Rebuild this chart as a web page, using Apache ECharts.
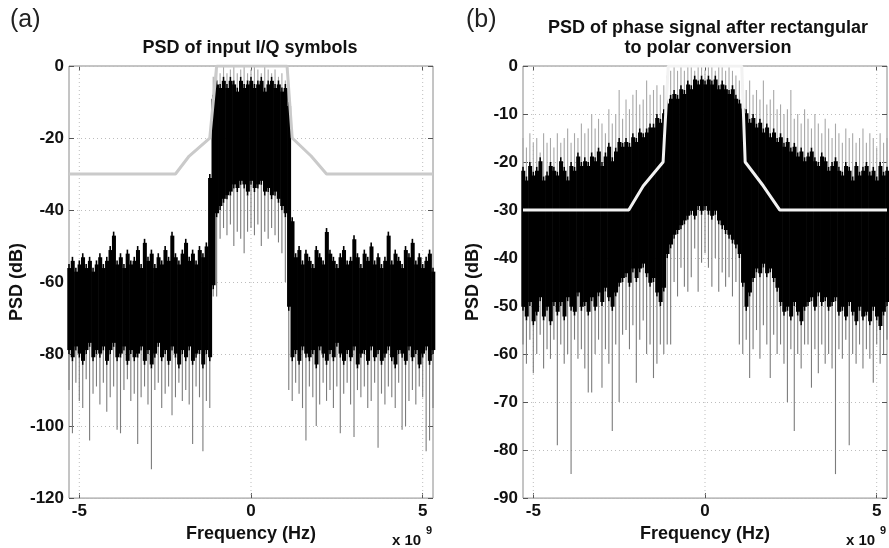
<!DOCTYPE html>
<html><head><meta charset="utf-8">
<script src="https://cdn.jsdelivr.net/npm/echarts@6/dist/echarts.min.js"></script>
<style>html,body{margin:0;padding:0;background:#fff}#c{width:889px;height:548px}</style>
</head><body><div id="c"></div>
<script>
// Frequency sample grid (units of 1e9 Hz)
const FREQ = [-5.3,-5.2,-5.1,-5.0,-4.9,-4.8,-4.7,-4.6,-4.5,-4.4,
 -4.3,-4.2,-4.1,-4.0,-3.9,-3.8,-3.7,-3.6,-3.5,-3.4,
 -3.3,-3.2,-3.1,-3.0,-2.9,-2.8,-2.7,-2.6,-2.5,-2.4,
 -2.3,-2.2,-2.1,-2.0,-1.9,-1.8,-1.7,-1.6,-1.5,-1.4,
 -1.3,-1.2,-1.1,-1.0,-0.9,-0.8,-0.7,-0.6,-0.5,-0.4,
 -0.3,-0.2,-0.1,0,0.1,0.2,0.3,0.4,0.5,0.6,
 0.7,0.8,0.9,1.0,1.1,1.2,1.3,1.4,1.5,1.6,
 1.7,1.8,1.9,2.0,2.1,2.2,2.3,2.4,2.5,2.6,
 2.7,2.8,2.9,3.0,3.1,3.2,3.3,3.4,3.5,3.6,
 3.7,3.8,3.9,4.0,4.1,4.2,4.3,4.4,4.5,4.6,
 4.7,4.8,4.9,5.0,5.1,5.2,5.3];
const COL_WIDTH = 0.1;
const X_TICKS = [-5, 0, 5];

// Panel (a): PSD of input I/Q symbols (dB) - upper edge, lower edge of dense trace, deepest dips, highest peaks
const A_TOP = [-55,-53,-56,-54,-52,-55,-53,-56,-54,-52,
 -55,-53,-50,-46,-54,-52,-55,-51,-54,-53,
 -50,-55,-48,-53,-51,-55,-52,-54,-50,-53,
 -46,-52,-54,-51,-48,-53,-51,-54,-50,-52,
 -49,-30,-8,-4,-5,-3,-5,-3,-4,-6,
 -3,-5,-4,-3,-5,-4,-3,-6,-4,-3,
 -5,-4,-6,-5,-10,-42,-52,-50,-54,-51,
 -53,-55,-50,-52,-54,-45,-51,-53,-55,-52,
 -50,-54,-53,-47,-52,-55,-51,-53,-49,-54,
 -52,-55,-53,-46,-54,-51,-53,-55,-50,-52,
 -48,-54,-52,-55,-53,-51,-56];
const A_BOT = [-80,-82,-79,-81,-83,-80,-78,-82,-80,-81,
 -79,-83,-80,-78,-82,-81,-79,-83,-80,-82,
 -81,-79,-83,-80,-84,-81,-78,-82,-80,-83,
 -79,-81,-84,-80,-82,-79,-83,-81,-80,-84,
 -80,-82,-62,-42,-40,-38,-37,-36,-34,-35,
 -33,-34,-36,-33,-35,-34,-33,-36,-35,-37,
 -36,-38,-40,-42,-68,-82,-80,-83,-79,-81,
 -82,-80,-84,-79,-81,-83,-80,-82,-78,-81,
 -83,-80,-82,-79,-84,-81,-80,-83,-79,-82,
 -80,-83,-81,-79,-82,-84,-80,-81,-83,-79,
 -82,-80,-84,-81,-79,-83,-80];
const A_LOW = [-90,-102,-88,-93,-95,-87,-104,-91,-89,-94,
 -88,-96,-92,-89,-101,-102,-90,-87,-93,-91,
 -105,-92,-89,-94,-112,-90,-88,-95,-91,-89,
 -97,-92,-88,-93,-90,-94,-105,-89,-92,-107,
 -93,-95,-64,-64,-48,-45,-47,-44,-50,-46,
 -48,-52,-46,-45,-47,-44,-50,-46,-48,-45,
 -47,-49,-52,-60,-90,-93,-88,-91,-95,-104,
 -89,-92,-100,-94,-88,-93,-90,-95,-89,-102,
 -91,-88,-94,-103,-90,-92,-89,-95,-93,-88,
 -106,-91,-94,-89,-92,-95,-88,-101,-100,-93,
 -90,-94,-89,-92,-107,-104,-95];
const A_HIGH = [null,null,null,null,null,null,null,null,null,null,
 null,null,null,null,null,null,null,null,null,null,
 null,null,null,null,null,null,null,null,null,null,
 null,null,null,null,null,null,null,null,null,null,
 null,null,-3,-1,-2,0,-2,-1,0,-2,
 -1,0,-2,-1,0,-1,-2,0,-1,-2,
 -1,-3,-2,-4,-7,null,null,null,null,null,
 null,null,null,null,null,null,null,null,null,null,
 null,null,null,null,null,null,null,null,null,null,
 null,null,null,null,null,null,null,null,null,null,
 null,null,null,null,null,null,null];
// spectral mask (a)
const A_MASK_F = [-5.3,-2.2,-1.8,-1.2,-1.0,1.05,1.2,1.75,2.2,5.3];
const A_MASK_DB = [-30,-30,-25,-20,0,0,-20,-25,-30,-30];

// Panel (b): PSD of phase signal after rectangular to polar conversion (dB)
const B_TOP = [-21,-23,-20,-22,-21,-19,-23,-22,-20,-21,
 -22,-19,-21,-23,-20,-21,-18,-20,-19,-20,
 -18,-19,-17,-20,-18,-16,-19,-17,-15,-16,
 -15,-16,-14,-15,-13,-14,-13,-12,-12,-10,
 -11,-9,-7,-6,-5,-6,-4,-5,-3,-4,
 -2,-3,-2,-3,-2,-3,-2,-4,-3,-4,
 -5,-4,-6,-7,-8,-9,-11,-10,-12,-11,
 -13,-12,-14,-13,-15,-14,-16,-15,-17,-16,
 -18,-17,-19,-18,-17,-19,-20,-18,-19,-21,
 -20,-19,-21,-22,-20,-21,-23,-20,-22,-21,
 -20,-22,-21,-23,-20,-22,-21];
const B_BOT = [-51,-53,-50,-54,-52,-49,-53,-51,-54,-50,
 -52,-50,-53,-49,-51,-52,-48,-51,-50,-52,
 -49,-51,-48,-50,-47,-49,-51,-48,-46,-45,
 -44,-46,-43,-45,-43,-42,-44,-46,-45,-48,
 -50,-47,-40,-38,-36,-35,-34,-33,-32,-31,
 -32,-30,-31,-30,-31,-32,-31,-33,-34,-35,
 -36,-37,-38,-40,-46,-51,-48,-45,-43,-44,
 -42,-44,-43,-45,-47,-50,-52,-51,-53,-50,
 -52,-54,-51,-50,-49,-51,-48,-50,-49,-51,
 -50,-49,-52,-51,-53,-50,-52,-54,-51,-53,
 -52,-54,-51,-53,-55,-52,-50];
const B_LOW = [-58,-62,-57,-64,-60,-56,-63,-59,-61,-57,
 -79,-58,-62,-60,-85,-57,-61,-59,-63,-68,
 -68,-60,-57,-67,-59,-62,-76,-58,-70,-56,
 -55,-59,-54,-66,-57,-53,-60,-58,-65,-62,
 -58,-60,-58,-58,-45,-48,-42,-46,-47,-44,
 -38,-47,-41,-39,-42,-46,-40,-47,-43,-46,
 -44,-48,-45,-58,-60,-57,-65,-59,-55,-61,
 -54,-58,-65,-56,-60,-58,-62,-70,-59,-76,
 -60,-63,-58,-58,-67,-59,-64,-58,-62,-60,
 -63,-85,-59,-61,-57,-79,-60,-62,-58,-63,
 -59,-61,-66,-58,-62,-60,-57];
const B_HIGH = [-15,-17,-14,-16,-15,-18,-14,-16,-15,-17,
 -14,-16,-15,-13,-16,-14,-15,-12,-14,-13,
 -10,-13,-11,-12,-14,-9,-12,-10,-5,-11,
 -7,-9,-6,-5,-8,-7,-3,-6,-5,-4,
 -6,-4,-2,-1,0,-1,0,-1,0,0,
 -1,0,0,-1,0,0,-1,0,0,-1,
 0,-1,-2,-3,-4,-5,-3,-6,-5,-7,
 -3,-8,-7,-5,-9,-8,-10,-9,-5,-11,
 -10,-12,-9,-11,-13,-10,-12,-14,-11,-13,
 -15,-12,-14,-16,-13,-15,-14,-16,-15,-13,
 -16,-14,-15,-17,-14,-16,-15];
const B_MASK_F = [-5.3,-2.22,-1.8,-1.22,-1.07,1.07,1.17,1.7,2.18,5.3];
const B_MASK_DB = [-30,-30,-25,-20,0,0,-20,-25,-30,-30];

const FONT = '"Liberation Sans", Arial, Helvetica, sans-serif';

function specData(top, bot, low, high) {
  return FREQ.map((f, i) => [f, top[i], bot[i], low[i], high[i] == null ? NaN : high[i]]);
}
function renderSpec(params, api) {
  const f = api.value(0), top = api.value(1), bot = api.value(2), low = api.value(3), hi = api.value(4);
  const a = api.coord([f - COL_WIDTH / 2, top]);
  const b = api.coord([f + COL_WIDTH / 2, bot]);
  const pt = api.coord([f, top]);
  const pb = api.coord([f, bot]);
  const pl = api.coord([f, low]);
  const inset = Math.min(4, (b[1] - a[1]) / 4);
  const children = [];
  children.push({type: 'line', shape: {x1: pb[0], y1: pb[1], x2: pl[0], y2: pl[1]},
    style: {stroke: '#7c7c7c', lineWidth: 1.1}});
  if (!isNaN(hi)) {
    const ph = api.coord([f, hi]);
    children.push({type: 'line', shape: {x1: pt[0], y1: pt[1], x2: ph[0], y2: ph[1]},
      style: {stroke: '#a8a8a8', lineWidth: 1.1}});
  }
  // dense body of the trace
  children.push({type: 'rect', shape: {x: a[0], y: a[1] + inset, width: b[0] - a[0] + 0.6, height: b[1] - a[1] - 2 * inset},
    style: {fill: '#000'}});
  // thin peak/dip reaching the full extent
  children.push({type: 'line', shape: {x1: pt[0], y1: pt[1], x2: pb[0], y2: pb[1]},
    style: {stroke: '#000', lineWidth: 1.6}});
  return {type: 'group', children};
}
function renderGridX(params, api) {
  const v = api.value(0);
  const p1 = api.coord([v, 0]);
  const cs = params.coordSys;
  return {type: 'line', shape: {x1: p1[0], y1: cs.y, x2: p1[0], y2: cs.y + cs.height},
    style: {stroke: '#bdbdbd', lineWidth: 1, lineDash: [1, 3]}};
}

const tickStyle = {color: '#111', fontSize: 17, fontWeight: 'bold', fontFamily: FONT};
const nameStyle = {color: '#111', fontSize: 18, fontWeight: 'bold', fontFamily: FONT};

function xAxes(g) {
  return [
    {gridIndex: g, type: 'value', min: -5.3, max: 5.3, position: 'bottom',
      axisLine: {show: false, onZero: false}, splitLine: {show: false},
      axisTick: {show: true, inside: true, length: 5, customValues: X_TICKS, lineStyle: {color: '#555'}},
      axisLabel: Object.assign({customValues: X_TICKS, margin: 5}, tickStyle),
      name: 'Frequency (Hz)', nameLocation: 'middle', nameGap: 21, nameTextStyle: nameStyle},
    {gridIndex: g, type: 'value', min: -5.3, max: 5.3, position: 'top',
      axisLine: {show: false, onZero: false}, splitLine: {show: false},
      axisTick: {show: true, inside: true, length: 5, customValues: X_TICKS, lineStyle: {color: '#555'}},
      axisLabel: {show: false}}
  ];
}
function yAxes(g, yMin, step, gap) {
  return [
    {gridIndex: g, type: 'value', min: yMin, max: 0, interval: step, position: 'left',
      axisLine: {show: false, onZero: false},
      axisTick: {show: true, inside: true, length: 5, lineStyle: {color: '#555'}},
      axisLabel: Object.assign({margin: 5}, tickStyle),
      splitLine: {show: true, lineStyle: {color: '#bdbdbd', type: [1, 3], width: 1}},
      name: 'PSD (dB)', nameLocation: 'middle', nameGap: gap, nameRotate: 90, nameTextStyle: nameStyle},
    {gridIndex: g, type: 'value', min: yMin, max: 0, interval: step, position: 'right',
      axisLine: {show: false, onZero: false},
      axisTick: {show: true, inside: true, length: 5, lineStyle: {color: '#555'}},
      axisLabel: {show: false}, splitLine: {show: false}}
  ];
}

const option = {
  animation: false,
  backgroundColor: '#fff',
  grid: [
    {left: 69, top: 66, width: 364, height: 434, show: true, borderColor: '#8a8a8a', borderWidth: 1, backgroundColor: 'transparent'},
    {left: 523, top: 66, width: 364, height: 434, show: true, borderColor: '#8a8a8a', borderWidth: 1, backgroundColor: 'transparent'}
  ],
  xAxis: xAxes(0).concat(xAxes(1)),
  yAxis: yAxes(0, -120, 20, 40).concat(yAxes(1, -90, 10, 41)),
  series: [
    {type: 'custom', xAxisIndex: 0, yAxisIndex: 0, z: 1, silent: true, data: X_TICKS.map(v => [v]), renderItem: renderGridX},
    {type: 'custom', xAxisIndex: 0, yAxisIndex: 0, z: 2, silent: true, data: specData(A_TOP, A_BOT, A_LOW, A_HIGH), renderItem: renderSpec},
    {type: 'line', xAxisIndex: 0, yAxisIndex: 0, z: 3, silent: true, symbol: 'none',
      lineStyle: {color: '#cacaca', width: 3}, data: A_MASK_F.map((f, i) => [f, A_MASK_DB[i]])},
    {type: 'custom', xAxisIndex: 2, yAxisIndex: 2, z: 1, silent: true, data: X_TICKS.map(v => [v]), renderItem: renderGridX},
    {type: 'custom', xAxisIndex: 2, yAxisIndex: 2, z: 2, silent: true, data: specData(B_TOP, B_BOT, B_LOW, B_HIGH), renderItem: renderSpec},
    {type: 'line', xAxisIndex: 2, yAxisIndex: 2, z: 3, silent: true, symbol: 'none',
      lineStyle: {color: '#f2f2f2', width: 3}, data: B_MASK_F.map((f, i) => [f, B_MASK_DB[i]])}
  ],
  graphic: [
    {type: 'text', left: 10, top: 8, style: {text: '(a)', font: '25px ' + FONT, fill: '#222'}},
    {type: 'text', left: 466, top: 8, style: {text: '(b)', font: '25px ' + FONT, fill: '#222'}},
    {type: 'text', x: 250, y: 48.5, style: {text: 'PSD of input I/Q symbols', font: 'bold 18px ' + FONT, fill: '#111', textAlign: 'center', textVerticalAlign: 'middle'}},
    {type: 'text', x: 708, y: 28.5, style: {text: 'PSD of phase signal after rectangular', font: 'bold 18px ' + FONT, fill: '#111', textAlign: 'center', textVerticalAlign: 'middle'}},
    {type: 'text', x: 708, y: 48.5, style: {text: 'to polar conversion', font: 'bold 18px ' + FONT, fill: '#111', textAlign: 'center', textVerticalAlign: 'middle'}},
    {type: 'text', x: 392, y: 541, style: {text: 'x 10', font: 'bold 15px ' + FONT, fill: '#111', textVerticalAlign: 'middle'}},
    {type: 'text', x: 426, y: 531, style: {text: '9', font: 'bold 11px ' + FONT, fill: '#111', textVerticalAlign: 'middle'}},
    {type: 'text', x: 846, y: 541, style: {text: 'x 10', font: 'bold 15px ' + FONT, fill: '#111', textVerticalAlign: 'middle'}},
    {type: 'text', x: 880, y: 531, style: {text: '9', font: 'bold 11px ' + FONT, fill: '#111', textVerticalAlign: 'middle'}}
  ]
};
const chart = echarts.init(document.getElementById('c'));
chart.setOption(option);
</script></body></html>
